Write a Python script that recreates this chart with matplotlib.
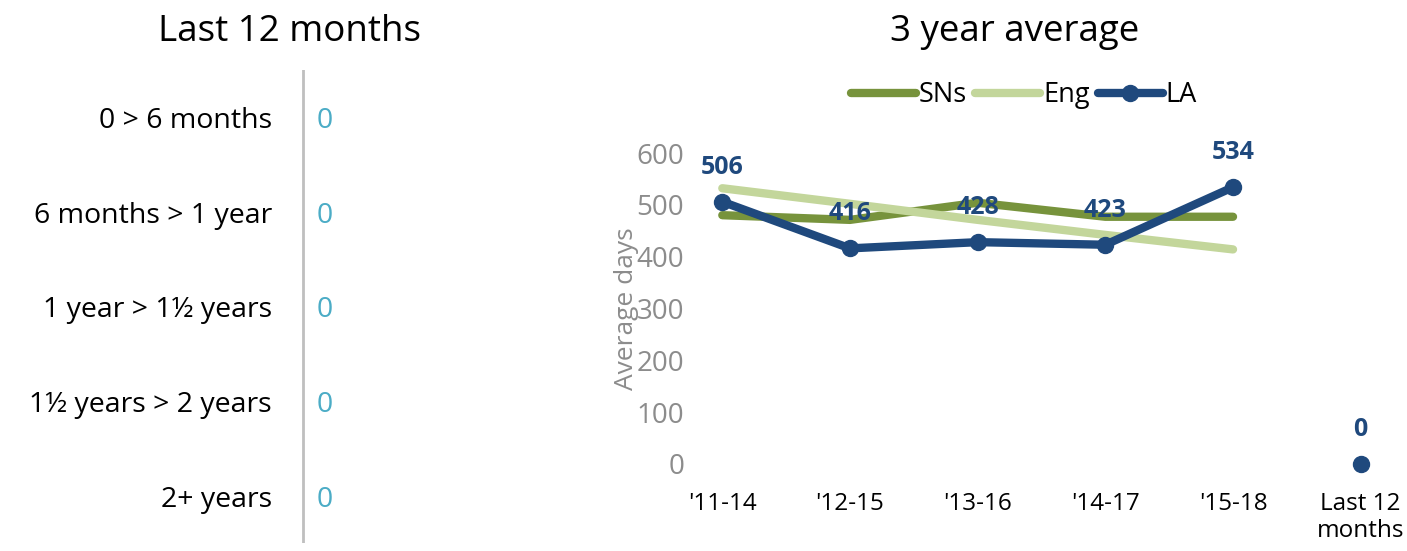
import numpy as np
import matplotlib.pyplot as plt

plt.rcParams['font.family'] = ['Open Sans', 'DejaVu Sans']

# left panel: time taken breakdown for the last 12 months
durations = ['0 > 6 months', '6 months > 1 year', '1 year > 1½ years',
             '1½ years > 2 years', '2+ years']
duration_counts = [0, 0, 0, 0, 0]

# right panel: 3 year averages (days)
periods = ["'11-14", "'12-15", "'13-16", "'14-17", "'15-18", 'Last 12\nmonths']
sns_avg = [480, 471, 504, 477, 477]
eng_avg = [532, 502, 471, 442, 414]
la_avg = [506, 416, 428, 423, 534]
la_last12 = 0

col_sns = '#77933C'
col_eng = '#C3D69B'
col_la = '#1F497D'
col_count = '#4BACC6'
col_grey = '#8C8C8C'

W, H = 1407, 551
fig = plt.figure(figsize=(W / 100, H / 100), dpi=100)

# ---- left panel ----
axl = fig.add_axes([0.0, 8 / H, 422 / W, 473 / H])
axl.set_xlim(0, 422)
axl.set_ylim(4.486 - 0.03, -0.507 - 0.03)
axl.axis('off')
axl.axvline(303, color='#BFBFBF', lw=2)
for i, (lab, n) in enumerate(zip(durations, duration_counts)):
    axl.text(272, i, lab, ha='right', va='center', fontsize=20.5, color='black')
    axl.text(317, i, str(n), ha='left', va='center', fontsize=20.5, color=col_count)
fig.text(290 / W, 1 - 32 / H, 'Last 12 months', ha='center', va='center', fontsize=26.5)

# ---- right panel ----
x_left, x_right = 684, 1399
axr = fig.add_axes([x_left / W, (H - 464) / H, (x_right - x_left) / W, 311 / H])
x = np.arange(len(periods))
axr.set_xlim(-0.3, 5.3)
axr.set_ylim(0, 600)

axr.plot(x[:5], sns_avg, color=col_sns, lw=6, solid_capstyle='round', label='SNs', zorder=2)
axr.plot(x[:5], eng_avg, color=col_eng, lw=6, solid_capstyle='round', label='Eng', zorder=2)
axr.plot(x[:5], la_avg, color=col_la, lw=6, marker='o', ms=11.5,
         solid_capstyle='round', label='LA', zorder=3, clip_on=False)
axr.plot([x[5]], [la_last12], color=col_la, marker='o', ms=11.5, ls='none',
         zorder=3, clip_on=False)

for xi, v in zip(x, la_avg + [la_last12]):
    axr.annotate(str(v), (xi, v), xytext=(0, 16), textcoords='offset points',
                 ha='center', va='bottom', fontsize=18, fontweight='bold',
                 color=col_la, annotation_clip=False)

axr.set_xticks(x)
axr.set_xticklabels(periods, fontsize=17.5)
axr.set_yticks(range(0, 601, 100))
axr.tick_params(axis='y', labelsize=20, labelcolor=col_grey, length=0, pad=0)
axr.tick_params(axis='x', length=0, pad=20)
for s in axr.spines.values():
    s.set_visible(False)
axr.patch.set_alpha(0)
axr.set_ylabel('Average days', fontsize=19, color=col_grey, labelpad=-2)

axr.legend(loc='center', bbox_to_anchor=(1024 / W, 1 - 95 / H),
           bbox_transform=fig.transFigure, ncol=3, frameon=False, fontsize=19.5,
           handlelength=2.4, columnspacing=0.3, handletextpad=0.1)
fig.text(1015 / W, 1 - 32 / H, '3 year average', ha='center', va='center', fontsize=26.5)

fig.savefig('out.png', dpi=100)
